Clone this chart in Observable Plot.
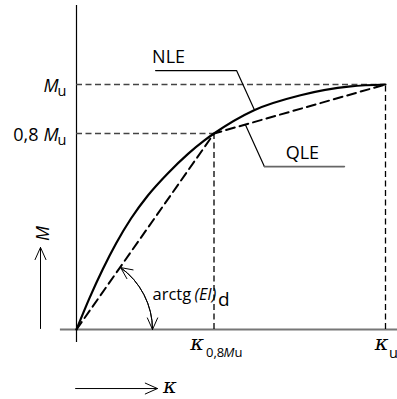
<!DOCTYPE html>
<html>
<head>
<meta charset="utf-8">
<script src="https://cdn.jsdelivr.net/npm/d3@7"></script>
<script src="https://cdn.jsdelivr.net/npm/@observablehq/plot@0.6"></script>
<style>
  html, body { margin: 0; padding: 0; background: white; }
</style>
</head>
<body>
<div id="chart"></div>
<script>
// NLE curve (κ/κu, M/Mu)
const nleKappa  = [0, 0.042, 0.085, 0.128, 0.177, 0.231, 0.296, 0.361, 0.414, 0.445, 0.573, 0.725, 0.887, 1];
const nleMoment = [0, 0.128, 0.246, 0.351, 0.454, 0.547, 0.638, 0.717, 0.772, 0.800, 0.894, 0.956, 0.992, 1];
// QLE polyline
const qleKappa  = [0, 0.445, 1];
const qleMoment = [0, 0.8, 1];
// reference levels
const kappa08 = 0.445;
const kappaU = 1;
const mu = 1;
const mu08 = 0.8;
// tick labels
const yTickValues = [mu, mu08];
const yTickPrefix = ["", "0,8"];
const yTickSymbol = "M";
const yTickSub = "u";
const xTickValues = [kappa08, kappaU];
const xTickSymbol = "κ";

const nle = nleKappa.map((k, i) => ({k, m: nleMoment[i]}));
const qle = qleKappa.map((k, i) => ({k, m: qleMoment[i]}));

const font = "Open Sans";
const kappaFont = "DejaVu Serif";
const refStroke = "#444";
const refDash = "6,3.5";

// annotation anchors (data space)
const nleLeader = [{k: 0.256, m: 1.057}, {k: 0.518, m: 1.057}, {k: 0.576, m: 0.896}];
const qleLeaderDiag = [{k: 0.547, m: 0.835}, {k: 0.608, m: 0.665}];
const qleLeaderHoriz = [{k: 0.608, m: 0.665}, {k: 0.867, m: 0.665}];
const arcA = {k: 0.1428, m: 0.2527};
const arcB = {k: 0.246, m: 0};

const chart = Plot.plot({
  width: 397,
  height: 399,
  marginLeft: 76,
  marginRight: 12,
  marginTop: 84,
  marginBottom: 70,
  x: {domain: [0, 1], axis: null},
  y: {domain: [0, 1], axis: null},
  style: {fontFamily: font, background: "white", color: "black", overflow: "visible"},
  marks: [
    // axes
    Plot.ruleY([0], {x1: -0.052, x2: 1.04, stroke: "#777", strokeWidth: 2}),
    Plot.ruleX([0], {y1: -0.053, y2: 1.322, stroke: "black", strokeWidth: 1.2}),
    // dashed reference lines
    Plot.ruleY([mu], {x1: 0, x2: kappaU, stroke: refStroke, strokeWidth: 1.5, strokeDasharray: refDash}),
    Plot.ruleY([mu08], {x1: 0, x2: kappa08, stroke: refStroke, strokeWidth: 1.5, strokeDasharray: refDash}),
    Plot.ruleX([kappa08], {y1: 0, y2: mu08, stroke: "black", strokeWidth: 1.3, strokeDasharray: refDash}),
    Plot.ruleX([kappaU], {y1: 0, y2: mu, stroke: "black", strokeWidth: 1.3, strokeDasharray: refDash}),
    // QLE
    Plot.line(qle, {x: "k", y: "m", stroke: "black", strokeWidth: 2, strokeDasharray: "9,5"}),
    // NLE
    Plot.line(nle, {x: "k", y: "m", stroke: "black", strokeWidth: 2.2, curve: "monotone-x"}),
    // leaders
    Plot.line(nleLeader, {x: "k", y: "m", stroke: "black", strokeWidth: 1.2}),
    Plot.line(qleLeaderDiag, {x: "k", y: "m", stroke: "black", strokeWidth: 1.2}),
    Plot.line(qleLeaderHoriz, {x: "k", y: "m", stroke: "#666", strokeWidth: 1.6}),
    Plot.text(["NLE"], {x: 0.298, y: 1.086, textAnchor: "middle", lineAnchor: "bottom", fontSize: 18, fill: "black"}),
    Plot.text(["QLE"], {x: 0.731, y: 0.694, textAnchor: "middle", lineAnchor: "bottom", fontSize: 18, fill: "black"}),
    // angle arc with arrowheads at both ends
    Plot.arrow([0], {x1: arcA.k, y1: arcA.m, x2: arcB.k, y2: arcB.m, bend: 27.25, stroke: "black", strokeWidth: 1, headLength: 19, headAngle: 48}),
    Plot.arrow([0], {x1: arcB.k, y1: arcB.m, x2: arcA.k, y2: arcA.m, bend: -27.25, stroke: "black", strokeWidth: 1, headLength: 19, headAngle: 50}),
    Plot.text(["arctg "], {x: 0.246, y: 0.122, textAnchor: "start", lineAnchor: "bottom", fontSize: 16.5, fill: "black"}),
    Plot.text(["(EI)"], {x: 0.382, y: 0.122, textAnchor: "start", lineAnchor: "bottom", fontSize: 16, fontStyle: "italic", fill: "black"}),
    Plot.text(["d"], {x: 0.458, y: 0.094, textAnchor: "start", lineAnchor: "bottom", fontSize: 19, fill: "black"}),
    // y tick labels
    Plot.text(yTickValues, {x: 0, y: d => d, text: () => yTickSymbol, textAnchor: "end", lineAnchor: "bottom", dx: -18, dy: 7, fontSize: 18, fontStyle: "italic", fill: "black"}),
    Plot.text(yTickValues, {x: 0, y: d => d, text: () => yTickSub, textAnchor: "start", lineAnchor: "bottom", dx: -19, dy: 11, fontSize: 14.5, fill: "black"}),
    Plot.text(yTickValues, {x: 0, y: d => d, text: (d, i) => yTickPrefix[i], textAnchor: "end", lineAnchor: "bottom", dx: -38, dy: 7, fontSize: 18, fill: "black"}),
    // x tick labels
    Plot.text([kappa08], {x: d => d, y: 0, text: () => xTickSymbol, textAnchor: "end", lineAnchor: "bottom", dx: -10, dy: 20, fontSize: 21, fontStyle: "italic", fontFamily: kappaFont, fill: "black"}),
    Plot.text([kappaU], {x: d => d, y: 0, text: () => xTickSymbol, textAnchor: "end", lineAnchor: "bottom", dx: 3, dy: 20, fontSize: 21, fontStyle: "italic", fontFamily: kappaFont, fill: "black"}),
    Plot.text([kappa08], {x: d => d, y: 0, text: () => "0,8", textAnchor: "start", lineAnchor: "bottom", dx: -8, dy: 27, fontSize: 13, fill: "black"}),
    Plot.text([kappa08], {x: d => d, y: 0, text: () => "M", textAnchor: "start", lineAnchor: "bottom", dx: 9.5, dy: 27, fontSize: 13, fontStyle: "italic", fill: "black"}),
    Plot.text([kappa08], {x: d => d, y: 0, text: () => "u", textAnchor: "start", lineAnchor: "bottom", dx: 20.5, dy: 27, fontSize: 13, fill: "black"}),
    Plot.text([kappaU], {x: d => d, y: 0, text: () => "u", textAnchor: "start", lineAnchor: "bottom", dx: 3.5, dy: 28, fontSize: 14.5, fill: "black"}),
    // axis direction arrows
    Plot.arrow([0], {x1: -0.1165, y1: 0.004, x2: -0.1165, y2: 0.335, stroke: "black", strokeWidth: 1, headLength: 20, headAngle: 48}),
    Plot.text(["M"], {x: -0.108, y: 0.392, rotate: -90, textAnchor: "middle", lineAnchor: "middle", fontSize: 18, fontStyle: "italic", fill: "black"}),
    Plot.arrow([0], {x1: -0.003, y1: -0.241, x2: 0.262, y2: -0.241, stroke: "black", strokeWidth: 1, headLength: 20, headAngle: 48}),
    Plot.text(["κ"], {x: 0.28, y: -0.258, textAnchor: "start", lineAnchor: "bottom", fontSize: 21, fontStyle: "italic", fontFamily: kappaFont, fill: "black"})
  ]
});
document.getElementById("chart").appendChild(chart);
</script>
</body>
</html>
